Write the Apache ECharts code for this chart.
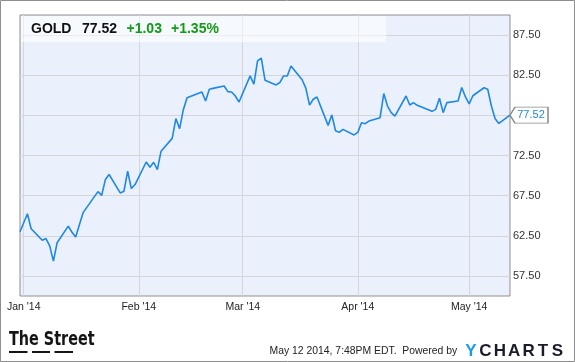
<!DOCTYPE html>
<html><head><meta charset="utf-8">
<script src="https://cdn.jsdelivr.net/npm/echarts@6/dist/echarts.min.js"></script>
<style>html,body{margin:0;padding:0;background:#fff}#c{width:575px;height:362px}</style>
</head><body><div id="c"></div>
<script>
// ---- data ----
const dates = [
'2013-12-31','2014-01-02','2014-01-03','2014-01-06','2014-01-07','2014-01-08','2014-01-09','2014-01-10',
'2014-01-13','2014-01-14','2014-01-15','2014-01-16','2014-01-17','2014-01-21','2014-01-22','2014-01-23',
'2014-01-24','2014-01-27','2014-01-28','2014-01-29','2014-01-30','2014-01-31',
'2014-02-03','2014-02-04','2014-02-05','2014-02-06','2014-02-07','2014-02-10','2014-02-11','2014-02-12',
'2014-02-13','2014-02-14','2014-02-18','2014-02-19','2014-02-20','2014-02-21','2014-02-24','2014-02-25',
'2014-02-26','2014-02-27','2014-02-28',
'2014-03-03','2014-03-04','2014-03-05','2014-03-06','2014-03-07','2014-03-10','2014-03-11','2014-03-12',
'2014-03-13','2014-03-14','2014-03-17','2014-03-18','2014-03-19','2014-03-20','2014-03-21','2014-03-24',
'2014-03-25','2014-03-26','2014-03-27','2014-03-28','2014-03-31',
'2014-04-01','2014-04-02','2014-04-03','2014-04-04','2014-04-07','2014-04-08','2014-04-09','2014-04-10',
'2014-04-11','2014-04-14','2014-04-15','2014-04-16','2014-04-17','2014-04-21','2014-04-22','2014-04-23',
'2014-04-24','2014-04-25','2014-04-28','2014-04-29','2014-04-30',
'2014-05-01','2014-05-02','2014-05-05','2014-05-06','2014-05-07','2014-05-08','2014-05-09','2014-05-12'
];
const values = [
63.00,65.25,63.38,61.94,62.16,61.25,59.34,61.63,
63.71,62.94,62.34,63.88,65.38,68.00,67.54,69.50,
70.13,67.84,68.04,70.54,68.38,68.88,
71.69,71.04,71.66,70.75,73.04,74.63,77.09,75.85,
78.21,79.69,80.41,79.29,80.75,80.86,81.16,80.46,
80.41,79.91,79.16,
82.41,81.38,84.29,84.63,81.88,81.29,81.59,82.41,
82.40,83.66,81.94,80.90,78.78,79.50,79.79,76.25,
77.54,75.59,75.38,75.75,75.06,
75.38,76.59,76.46,76.79,77.21,80.21,78.66,77.84,
77.41,79.91,78.79,79.09,78.75,78.00,78.25,79.63,
77.84,79.09,79.29,80.96,79.79,
78.94,79.94,80.94,80.75,78.63,77.09,76.49,77.52
];
const yTicks = [57.5, 62.5, 67.5, 72.5, 77.5, 82.5, 87.5];
const yMin = 55, yMax = 90;
const monthTicks = ['2014-01-01','2014-02-01','2014-03-01','2014-04-01','2014-05-01'];
const monthLabels = ["Jan '14","Feb '14","Mar '14","Apr '14","May '14"];
const xMin = '2013-12-31', xMax = '2014-05-12';
const ticker = 'GOLD', lastPrice = '77.52', change = '+1.03', changePct = '+1.35%';
const footerText = 'May 12 2014, 7:48PM EDT.  Powered by';
const logoLetters = ['Y','C','H','A','R','T','S'];

// ---- chart ----
const ts = s => new Date(s + 'T00:00:00Z').getTime();
const seriesData = dates.map((d, i) => [ts(d), values[i]]);
const monthTs = monthTicks.map(ts);
const FONT = "'Liberation Sans', Arial, sans-serif";
const BLUE = '#1f87e5';

const graphics = [
  { type: 'rect', silent: true, z: 100, shape: { x: 0.5, y: 0.5, width: 574, height: 361 },
    style: { fill: 'none', stroke: '#8e8e8e', lineWidth: 1 } },
  { type: 'rect', silent: true, z: 100, shape: { x: 21, y: 16, width: 365, height: 26 },
    style: { fill: 'rgba(255,255,255,0.55)' } },
  { type: 'text', z: 101, x: 31, y: 29, style: { text: ticker, font: 'bold 14px ' + FONT, fill: '#111', textVerticalAlign: 'middle' } },
  { type: 'text', z: 101, x: 82, y: 29, style: { text: lastPrice, font: 'bold 14px ' + FONT, fill: '#111', textVerticalAlign: 'middle' } },
  { type: 'text', z: 101, x: 126.5, y: 29, style: { text: change, font: 'bold 14px ' + FONT, fill: '#139b13', textVerticalAlign: 'middle' } },
  { type: 'text', z: 101, x: 171, y: 29, style: { text: changePct, font: 'bold 14px ' + FONT, fill: '#139b13', textVerticalAlign: 'middle' } },
  { type: 'text', z: 101, x: 9, y: 340, scaleX: 0.8, style: { text: 'The Street', font: "bold 20px 'Liberation Sans Narrow', 'DejaVu Sans Condensed', sans-serif", fill: '#151515', textVerticalAlign: 'middle' } },
  { type: 'rect', z: 101, shape: { x: 9, y: 351, width: 18.5, height: 2 }, style: { fill: '#151515' } },
  { type: 'rect', z: 101, shape: { x: 32, y: 351, width: 18, height: 2 }, style: { fill: '#151515' } },
  { type: 'rect', z: 101, shape: { x: 54.5, y: 351, width: 18.5, height: 2 }, style: { fill: '#151515' } },
  { type: 'text', z: 101, x: 269.5, y: 351.5, style: { text: footerText, font: '10.4px ' + FONT, fill: '#222', textVerticalAlign: 'middle' } }
];
logoLetters.forEach((ch, i) => {
  graphics.push({ type: 'text', z: 101, x: 471 + i * 14.4, y: 351, style: {
    text: ch, font: 'bold 17px ' + FONT, fill: i === 0 ? '#1e9be2' : '#1b1b2c',
    textAlign: 'center', textVerticalAlign: 'middle' } });
});

const chart = echarts.init(document.getElementById('c'), null, { renderer: 'canvas' });
chart.setOption({
  animation: false,
  backgroundColor: '#fff',
  grid: { left: 20, right: 65, top: 15, bottom: 66, show: true,
          backgroundColor: '#eaf1fc', borderColor: '#8f8f8f', borderWidth: 1 },
  xAxis: {
    type: 'value', min: ts(xMin), max: ts(xMax),
    axisLine: { show: false }, axisTick: { show: false, customValues: monthTs },
    splitLine: { show: true, lineStyle: { color: '#d6d6d6', width: 1 } },
    axisLabel: { customValues: monthTs, margin: 6, fontSize: 10.5, fontFamily: FONT, color: '#222',
      formatter: v => { const i = monthTs.indexOf(v); return i >= 0 ? monthLabels[i] : ''; } }
  },
  yAxis: {
    type: 'value', position: 'right', min: yMin, max: yMax,
    axisLine: { show: false }, axisTick: { show: false, customValues: yTicks },
    splitLine: { show: true, lineStyle: { color: '#d6d6d6', width: 1 } },
    axisLabel: { customValues: yTicks, margin: 3, fontSize: 11, fontFamily: FONT, color: '#333',
      formatter: v => v.toFixed(2) }
  },
  series: [{
    type: 'line', data: seriesData, showSymbol: false, symbol: 'none',
    lineStyle: { color: BLUE, width: 1.6 },
    markPoint: {
      silent: true,
      symbol: 'path://M0,8L5,0L38,0L38,16L5,16Z',
      symbolSize: [38, 16], symbolOffset: [19, 0],
      itemStyle: { color: '#fff', borderColor: '#8a8a8a', borderWidth: 1 },
      label: { show: true, position: 'inside', offset: [2, 0], formatter: lastPrice,
               color: BLUE, fontSize: 11, fontFamily: FONT },
      data: [{ coord: seriesData[seriesData.length - 1] }]
    }
  }],
  graphic: graphics
});
</script></body></html>
